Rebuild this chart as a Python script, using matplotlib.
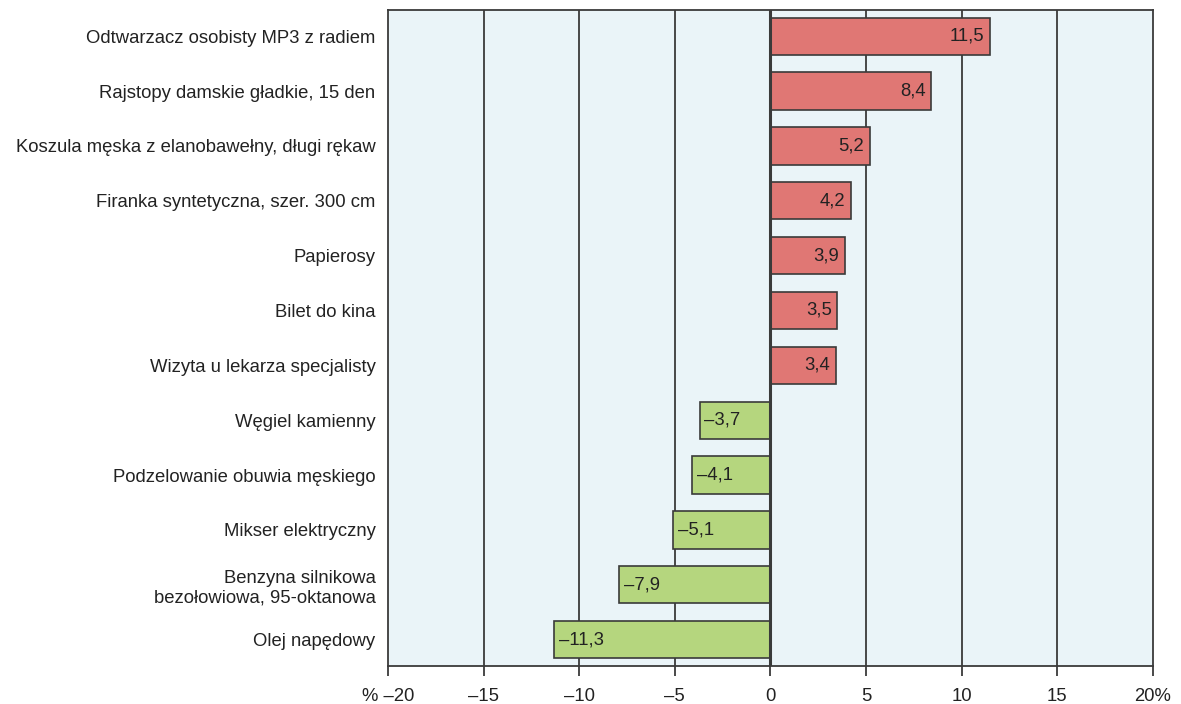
import matplotlib.pyplot as plt

# Data
categories = [
    'Odtwarzacz osobisty MP3 z radiem',
    'Rajstopy damskie gładkie, 15 den',
    'Koszula męska z elanobawełny, długi rękaw',
    'Firanka syntetyczna, szer. 300 cm',
    'Papierosy',
    'Bilet do kina',
    'Wizyta u lekarza specjalisty',
    'Węgiel kamienny',
    'Podzelowanie obuwia męskiego',
    'Mikser elektryczny',
    'Benzyna silnikowa\nbezołowiowa, 95-oktanowa',
    'Olej napędowy',
]
values = [11.5, 8.4, 5.2, 4.2, 3.9, 3.5, 3.4, -3.7, -4.1, -5.1, -7.9, -11.3]
xticks = [-20, -15, -10, -5, 0, 5, 10, 15, 20]
xtick_labels = ['% –20', '–15', '–10', '–5', '0', '5', '10', '15', '20%']

plt.rcParams['font.family'] = ['Liberation Sans', 'DejaVu Sans']
fs = 13.3

fig = plt.figure(figsize=(11.81, 7.04), dpi=100)
ax = fig.add_axes([0.3285, 0.054, 0.6478, 0.932])
ax.set_facecolor('#EAF4F8')

ypos = list(range(len(values)))
colors = ['#E07774' if v > 0 else '#B5D67E' for v in values]

for x in xticks[1:-1]:
    ax.axvline(x, color='#3a3a3a', lw=1.3 if x != 0 else 2.2, zorder=1 if x != 0 else 3)

ax.barh(ypos, values, height=0.68, color=colors, edgecolor='#3a3a3a', lw=1.2, zorder=2)

for y, v in zip(ypos, values):
    txt = f'{abs(v):.1f}'.replace('.', ',')
    if v > 0:
        ax.text(v - 0.3, y, txt, ha='right', va='center', fontsize=fs, color='#222222', zorder=4)
    else:
        ax.text(v + 0.25, y, '–' + txt, ha='left', va='center', fontsize=fs, color='#222222', zorder=4)

ax.set_xlim(-20, 20)
ax.set_ylim(11.48, -0.48)
ax.set_yticks(ypos)
ax.set_yticklabels(categories, fontsize=fs, color='#222222', linespacing=1.2)
ax.tick_params(axis='y', length=0, pad=9)
ax.set_xticks(xticks)
ax.set_xticklabels(xtick_labels, fontsize=fs, color='#222222')
ax.tick_params(axis='x', length=7, width=1.3, color='#3a3a3a', pad=9)
for s in ax.spines.values():
    s.set_color('#3a3a3a')
    s.set_linewidth(1.3)

fig.savefig('out.png', dpi=100)
